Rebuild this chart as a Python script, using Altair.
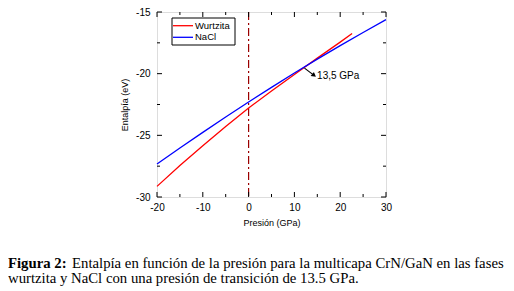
import altair as alt
import pandas as pd

# ---- data ----
series_names = ["Wurtzita", "NaCl"]
series_colors = ["#ff0000", "#0000ff"]

pressure_wurtzita = [-20, -15, -10, -5, 0, 5, 10, 15, 20, 22.6]
enthalpy_wurtzita = [-29.14, -27.45, -25.84, -24.28, -22.79, -21.40, -20.06, -18.74, -17.44, -16.75]

pressure_nacl = [-20, -15, -10, -5, 0, 5, 10, 15, 20, 25, 30]
enthalpy_nacl = [-27.33, -26.03, -24.76, -23.52, -22.30, -21.11, -19.95, -18.82, -17.73, -16.66, -15.62]

x_major = [-20, -10, 0, 10, 20, 30]
x_minor = [-15, -5, 5, 15, 25]
y_major = [-30, -25, -20, -15]
y_minor = [-27.5, -22.5, -17.5]

arrow_start = (12.2, -19.55)
arrow_end = (14.3, -20.14)
arrow_label = "13,5 GPa"

caption_bold = "Figura 2:"
caption_line1 = "Entalpía en función de la presión para la multicapa CrN/GaN en las fases"
caption_line2 = "wurtzita y NaCl con una presión de transición de 13.5 GPa."

W, H = 229, 185
SANS = "Liberation Sans"
SERIF = "Liberation Serif"
CAP_SIZE = 14.75

lines_df = pd.concat([
    pd.DataFrame({"P": pressure_wurtzita, "H": enthalpy_wurtzita, "fase": series_names[0]}),
    pd.DataFrame({"P": pressure_nacl, "H": enthalpy_nacl, "fase": series_names[1]}),
])

xs = alt.Scale(domain=[-20, 30], nice=False, zero=False)
ys = alt.Scale(domain=[-30, -15], nice=False, zero=False)

hyphen_labels = "datum.value < 0 ? '-' + abs(datum.value) : '' + datum.value"

x_axis = alt.Axis(values=x_major, ticks=False, domain=False, grid=False, labelFontSize=10,
                  labelFont=SANS, labelPadding=5, labelFlush=False, labelExpr=hyphen_labels,
                  title="Presión (GPa)", titleFont=SANS,
                  titleFontSize=9, titleFontWeight="normal", titlePadding=6, labelColor="black",
                  titleColor="black")
y_axis = alt.Axis(values=y_major, ticks=False, domain=False, grid=False, labelFontSize=10,
                  labelFont=SANS, labelPadding=7, labelFlush=False, labelExpr=hyphen_labels,
                  title="Entalpía (eV)", titleFont=SANS,
                  titleFontSize=9, titleFontWeight="normal", titlePadding=6, labelColor="black",
                  titleColor="black")

base_axes = alt.Chart(pd.DataFrame({"P": [0], "H": [-20]})).mark_point(opacity=0).encode(
    x=alt.X("P:Q", scale=xs, axis=x_axis),
    y=alt.Y("H:Q", scale=ys, axis=y_axis),
)

vline = alt.Chart(pd.DataFrame({"P": [0]})).mark_rule(
    color="#9b0000", strokeWidth=1.2, strokeDash=[8, 3, 2, 3]
).encode(x=alt.X("P:Q", scale=xs))

lines = alt.Chart(lines_df).mark_line(strokeWidth=1.3).encode(
    x=alt.X("P:Q", scale=xs),
    y=alt.Y("H:Q", scale=ys),
    color=alt.Color("fase:N", scale=alt.Scale(domain=series_names, range=series_colors), legend=None),
    detail="fase:N",
)

# ticks (inward, on all four sides)
def xticks(vals, length):
    d = pd.DataFrame({"P": vals})
    bottom = alt.Chart(d).mark_rule(color="black", strokeWidth=1).encode(
        x=alt.X("P:Q", scale=xs), y=alt.value(H), y2=alt.value(H - length))
    top = alt.Chart(d).mark_rule(color="black", strokeWidth=1).encode(
        x=alt.X("P:Q", scale=xs), y=alt.value(0), y2=alt.value(length))
    return [bottom, top]

def yticks(vals, length):
    d = pd.DataFrame({"H": vals})
    left = alt.Chart(d).mark_rule(color="black", strokeWidth=1).encode(
        y=alt.Y("H:Q", scale=ys), x=alt.value(0), x2=alt.value(length))
    right = alt.Chart(d).mark_rule(color="black", strokeWidth=1).encode(
        y=alt.Y("H:Q", scale=ys), x=alt.value(W), x2=alt.value(W - length))
    return [left, right]

tick_layers = xticks(x_major, 5) + xticks(x_minor, 3) + yticks(y_major, 5) + yticks(y_minor, 3)

# arrow annotation
arrow_df = pd.DataFrame({"P": [arrow_start[0]], "H": [arrow_start[1]],
                         "P2": [arrow_end[0]], "H2": [arrow_end[1]]})
arrow_line = alt.Chart(arrow_df).mark_rule(color="black", strokeWidth=1.2).encode(
    x=alt.X("P:Q", scale=xs), y=alt.Y("H:Q", scale=ys), x2="P2:Q", y2="H2:Q")
arrow_head = alt.Chart(pd.DataFrame({"P": [arrow_end[0]], "H": [arrow_end[1]]})).mark_point(
    shape="triangle-up", filled=True, color="black", size=28, angle=128, opacity=1
).encode(x=alt.X("P:Q", scale=xs), y=alt.Y("H:Q", scale=ys))
arrow_text = alt.Chart(pd.DataFrame({"P": [arrow_end[0]], "H": [arrow_end[1]], "t": [arrow_label]})).mark_text(
    align="left", baseline="middle", font=SANS, fontSize=10, dx=3, dy=1, color="black"
).encode(x=alt.X("P:Q", scale=xs), y=alt.Y("H:Q", scale=ys), text="t:N")

# legend box
legend_box = alt.Chart(pd.DataFrame({"a": [0]})).mark_rect(
    fill="white", stroke="black", strokeWidth=1
).encode(x=alt.value(15), x2=alt.value(78), y=alt.value(6), y2=alt.value(33))
legend_layers = []
row_y = [13.7, 25.3]
for name, col, ry in zip(series_names, series_colors, row_y):
    d = pd.DataFrame({"fase": [name]})
    legend_layers.append(alt.Chart(d).mark_rule(strokeWidth=1.3, color=col).encode(
        x=alt.value(16), x2=alt.value(36), y=alt.value(ry)))
    legend_layers.append(alt.Chart(d).mark_text(
        align="left", baseline="middle", font=SANS, fontSize=9.5, color="black").encode(
        x=alt.value(38), y=alt.value(ry), text="fase:N"))

# caption
cap_df = pd.DataFrame({"b": [caption_bold], "l1": [caption_line1], "l2": [caption_line2]})
cap_bold = alt.Chart(cap_df).mark_text(align="left", baseline="alphabetic", font=SERIF, fontSize=CAP_SIZE,
                                       fontWeight="bold", color="black").encode(
    x=alt.value(-149), y=alt.value(256.3), text="b:N")
cap_l1 = alt.Chart(cap_df).mark_text(align="left", baseline="alphabetic", font=SERIF, fontSize=CAP_SIZE,
                                     color="black").encode(
    x=alt.value(-85), y=alt.value(256.3), text="l1:N")
cap_l2 = alt.Chart(cap_df).mark_text(align="left", baseline="alphabetic", font=SERIF, fontSize=CAP_SIZE,
                                     color="black").encode(
    x=alt.value(-149), y=alt.value(271), text="l2:N")

chart = alt.layer(
    base_axes, vline, lines, *tick_layers, arrow_line, arrow_head, arrow_text,
    legend_box, *legend_layers, cap_bold, cap_l1, cap_l2,
).properties(
    width=W, height=H,
    autosize=alt.AutoSizeParams(type="none"),
    padding={"left": 149, "top": 4, "right": 120, "bottom": 90},
).configure_view(stroke="black", strokeWidth=1).configure(background="white")

chart.save("out.html", embed_options={"renderer": "svg", "actions": False})
